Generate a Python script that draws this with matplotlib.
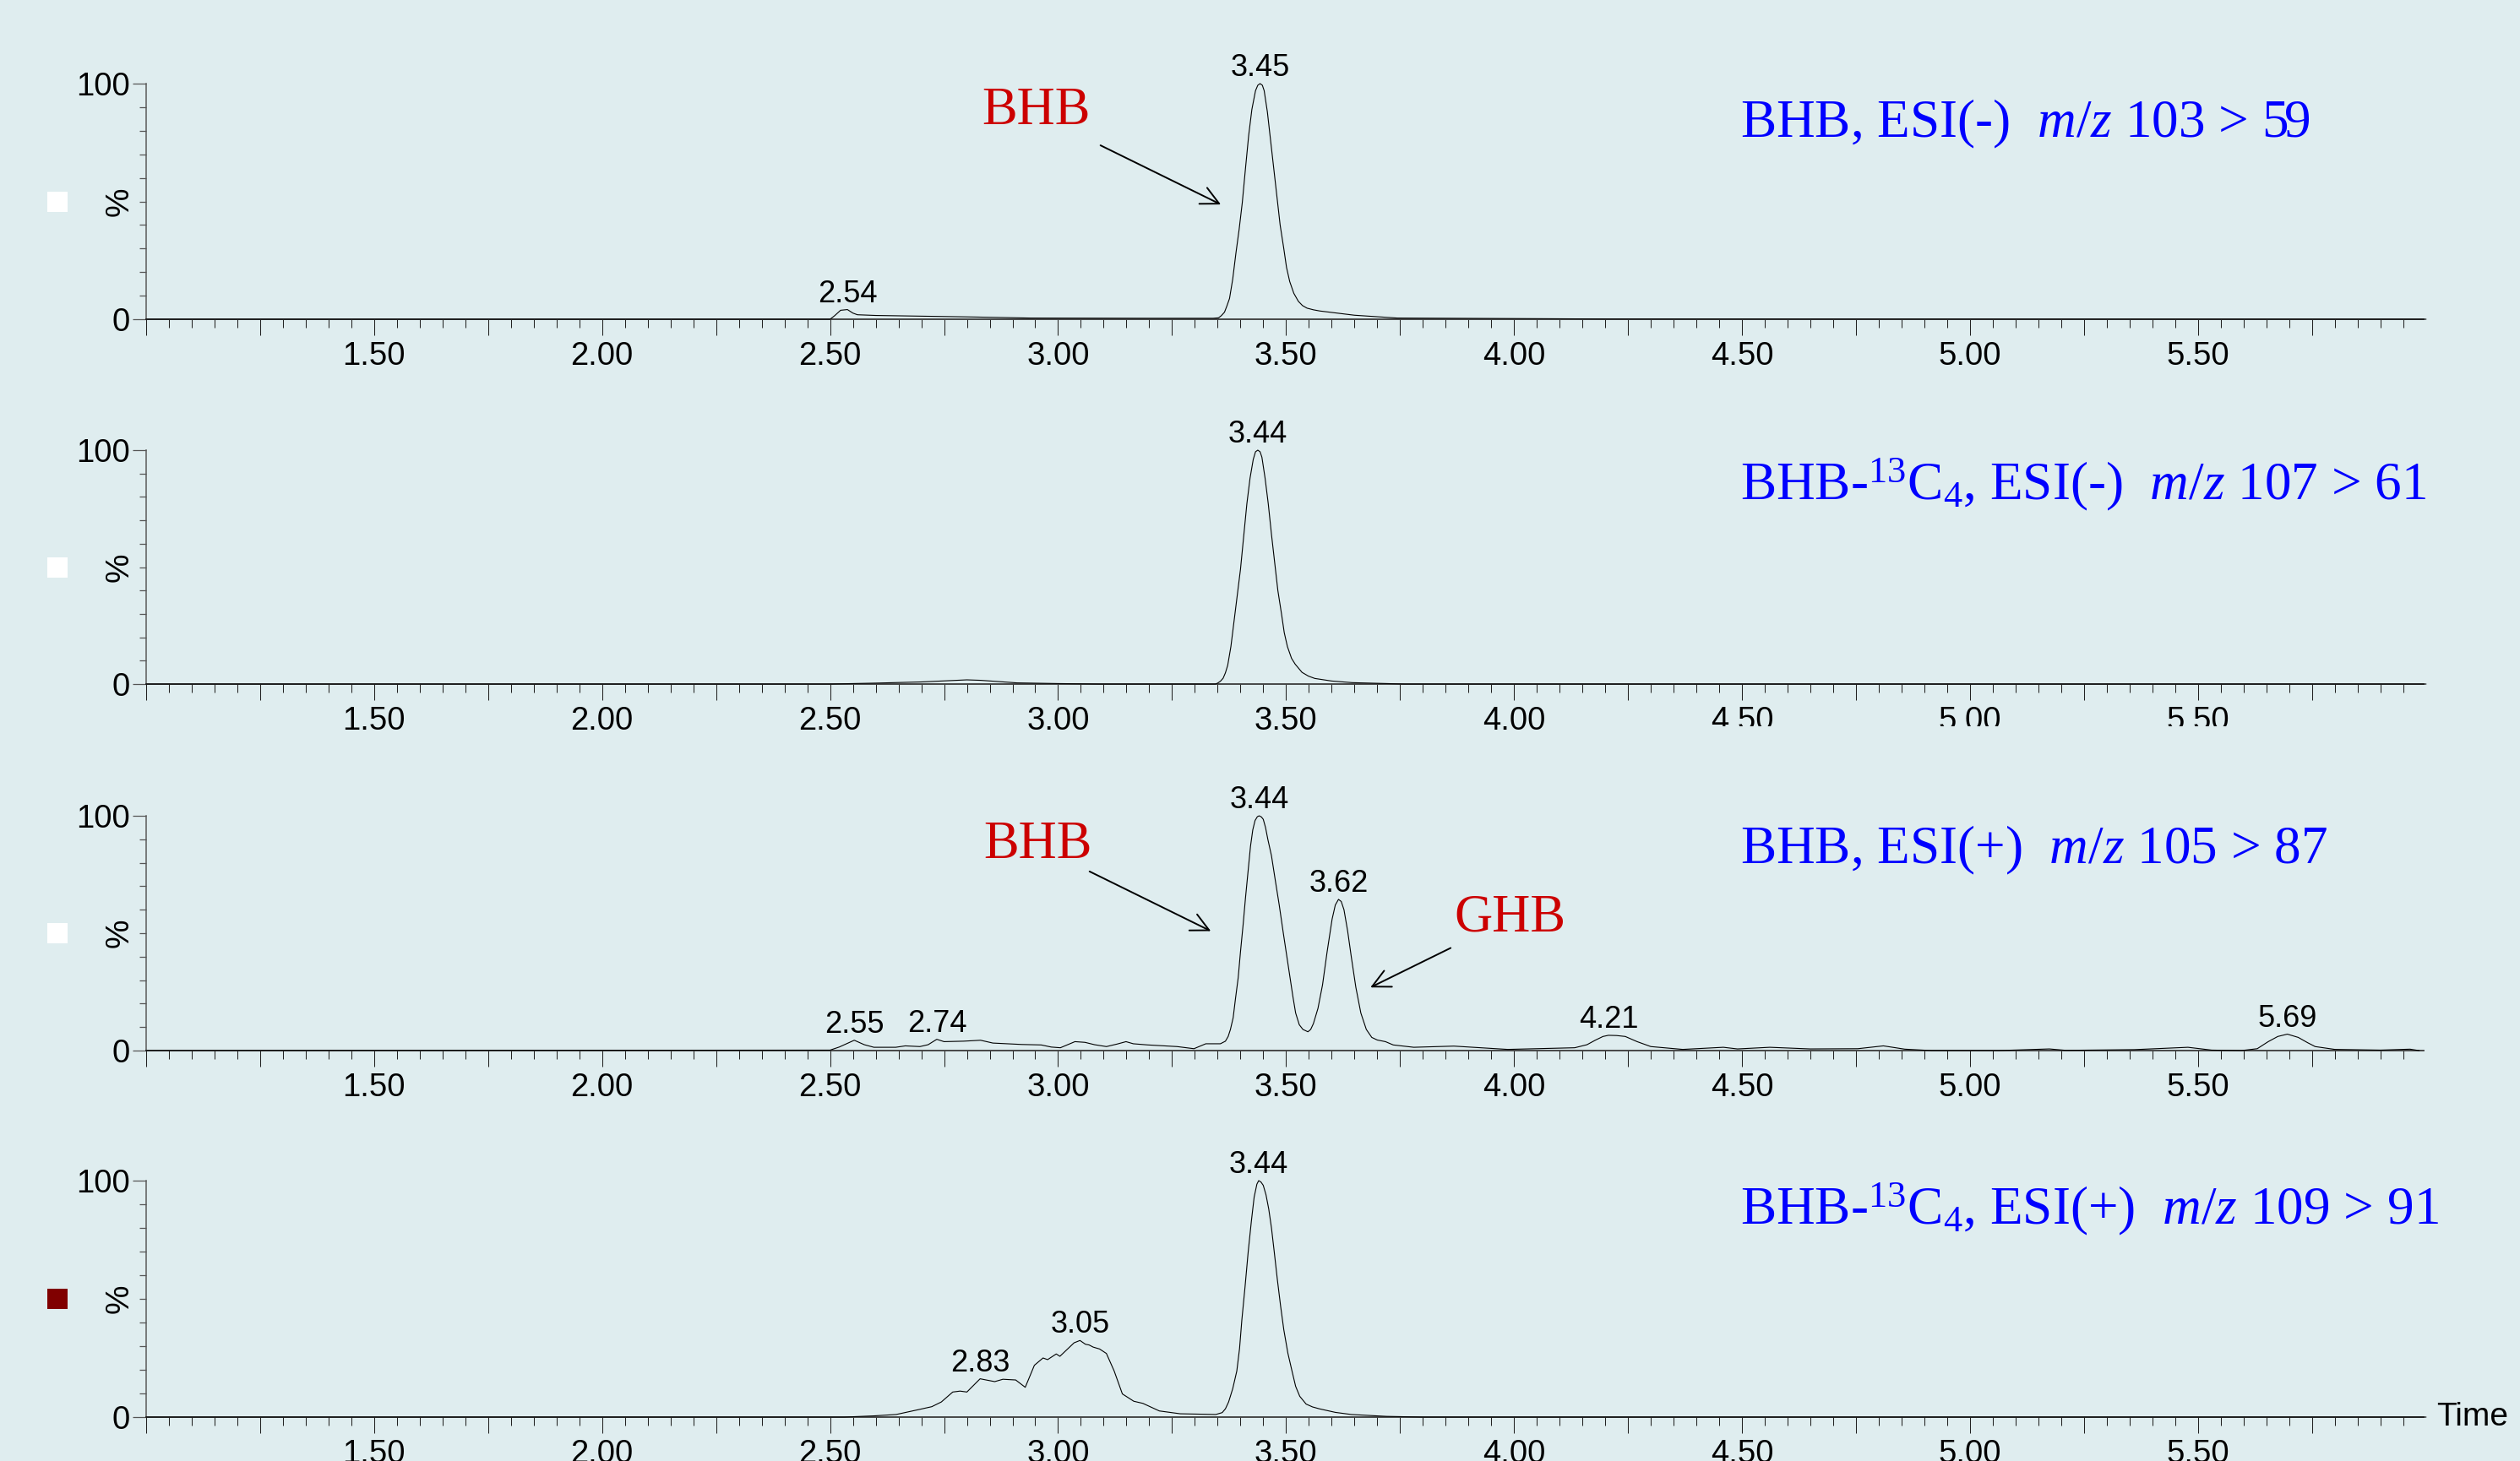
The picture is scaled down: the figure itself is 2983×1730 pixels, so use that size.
import numpy as np
import matplotlib
matplotlib.use('Agg')
import matplotlib.pyplot as plt
from matplotlib.ticker import MultipleLocator, FuncFormatter, FixedLocator
from matplotlib.patches import Rectangle

# ---------------- data (min, %) ----------------
t1 = [1.00, 2.50, 2.51, 2.523, 2.538, 2.55, 2.56, 2.60, 2.70, 2.80, 2.94, 3.20,
      3.34, 3.352, 3.358, 3.365, 3.370, 3.376, 3.383, 3.390, 3.397, 3.404,
      3.411, 3.418, 3.425, 3.433, 3.438, 3.443, 3.448, 3.452, 3.459, 3.466,
      3.473, 3.480, 3.487, 3.495, 3.501, 3.508, 3.517, 3.527, 3.536, 3.546,
      3.560, 3.574, 3.65, 3.744, 4.20, 6.00]
i1 = [0, 0, 1.5, 3.8, 4.1, 2.6, 1.9, 1.6, 1.3, 1.0, 0.5, 0.4,
      0.4, 0.6, 1.5, 3.0, 5.5, 8.8, 17, 28, 38, 49.5,
      64, 78, 89, 97, 99.3, 100, 99.3, 97, 88, 76,
      64, 52, 40, 30, 22, 16, 11, 7.6, 5.8, 4.7,
      4.0, 3.5, 1.7, 0.5, 0.1, 0]
pk1_t = [2.538, 3.443]
pk1_lab = ['2.54', '3.45']

t2 = [1.00, 2.50, 2.60, 2.70, 2.80, 2.83, 2.91, 3.00, 3.09, 3.345, 3.350,
      3.356, 3.362, 3.367, 3.372, 3.379, 3.386, 3.393, 3.400, 3.407, 3.414,
      3.421, 3.428, 3.433, 3.438, 3.443, 3.447, 3.454, 3.461, 3.468, 3.475,
      3.482, 3.490, 3.496, 3.503, 3.512, 3.520, 3.535, 3.549, 3.563, 3.60,
      3.645, 3.76, 6.00]
i2 = [0, 0, 0.4, 0.9, 1.8, 1.6, 0.5, 0.2, 0, 0, 0.4,
      1.2, 2.5, 4.8, 8, 16, 27, 38, 49, 63, 77,
      88, 96, 99.3, 100, 99.3, 97, 88, 77, 64, 52,
      40, 30, 22, 16, 11, 8.5, 5, 3.4, 2.4, 1.3,
      0.6, 0, 0]
pk2_t = [3.438]
pk2_lab = ['3.44']

t3 = [1.00, 2.50, 2.52, 2.553, 2.575, 2.596, 2.644, 2.665, 2.697, 2.715, 2.734,
      2.750, 2.793, 2.830, 2.857, 2.920, 2.963, 2.985, 3.005, 3.037, 3.059,
      3.080, 3.106, 3.130, 3.149, 3.165, 3.197, 3.261, 3.298, 3.324, 3.356,
      3.367, 3.373, 3.378, 3.384, 3.389, 3.395, 3.400, 3.406, 3.411, 3.417,
      3.422, 3.427, 3.432, 3.437, 3.441, 3.446, 3.450, 3.455, 3.460, 3.468,
      3.476, 3.485, 3.494, 3.501, 3.508, 3.515, 3.521, 3.529, 3.537, 3.548,
      3.554, 3.560, 3.570, 3.580, 3.590, 3.601, 3.608, 3.615, 3.621, 3.627,
      3.635, 3.643, 3.653, 3.664, 3.676, 3.688, 3.700, 3.718, 3.735, 3.78,
      3.868, 3.986, 4.133, 4.160, 4.178, 4.195, 4.207, 4.225, 4.244, 4.27,
      4.30, 4.37, 4.459, 4.49, 4.561, 4.65, 4.754, 4.81, 4.857, 4.916,
      5.063, 5.174, 5.21, 5.36, 5.478, 5.53, 5.595, 5.63, 5.654, 5.675,
      5.696, 5.72, 5.74, 5.757, 5.80, 5.90, 5.965, 5.985]
i3 = [0, 0.2, 1.5, 4.4, 2.5, 1.4, 1.4, 2.0, 1.7, 2.5, 4.8,
      3.8, 4.0, 4.4, 3.2, 2.6, 2.4, 1.5, 1.2, 3.8, 3.5,
      2.5, 1.7, 2.8, 3.8, 2.9, 2.4, 1.7, 0.8, 2.9, 2.9,
      4, 6, 9, 14, 22, 31, 42, 54, 65, 77,
      87, 94, 98, 99.6, 100, 99.5, 98.5, 95, 90, 83,
      73, 62, 50, 41, 32, 23, 16, 11, 9, 8,
      9, 11.5, 18, 28, 42, 56, 62, 64.4, 63.5, 60,
      51, 40, 27, 16, 9, 5.6, 4.5, 3.8, 2.4, 1.4,
      1.9, 0.5, 1.2, 2.5, 4.4, 6.0, 6.5, 6.4, 6.0, 3.8,
      1.7, 0.5, 1.4, 0.7, 1.4, 0.7, 0.8, 2.0, 0.6, 0,
      0, 0.7, 0.1, 0.4, 1.4, 0.2, 0, 0.8, 3.8, 6.0,
      7.0, 5.6, 3.4, 1.7, 0.5, 0.2, 0.6, 0]
pk3_t = [2.553, 2.734, 3.441, 3.615, 4.207, 5.696]
pk3_lab = ['2.55', '2.74', '3.44', '3.62', '4.21', '5.69']

t4 = [1.00, 2.531, 2.595, 2.645, 2.695, 2.723, 2.744, 2.769, 2.785, 2.80,
      2.829, 2.861, 2.879, 2.907, 2.928, 2.948, 2.967, 2.977, 2.996, 3.004,
      3.035, 3.048, 3.06, 3.068, 3.077, 3.091, 3.106, 3.123, 3.141, 3.166,
      3.186, 3.222, 3.268, 3.346, 3.360, 3.367, 3.374, 3.383, 3.392, 3.398,
      3.403, 3.410, 3.417, 3.424, 3.430, 3.436, 3.440, 3.445, 3.450, 3.456,
      3.462, 3.468, 3.474, 3.481, 3.488, 3.495, 3.504, 3.513, 3.521, 3.530,
      3.544, 3.558, 3.573, 3.608, 3.643, 3.72, 3.80, 6.00]
i4 = [0, 0, 0.5, 1.1, 3.2, 4.4, 6.4, 10.6, 11, 10.6,
      16.2, 15, 16, 15.7, 12.6, 21.9, 25, 24.3, 26.7, 25.7,
      31.4, 32.4, 30.8, 30.5, 29.6, 28.8, 26.9, 19.5, 9.8, 6.7,
      5.8, 2.6, 1.4, 1.1, 1.9, 3.5, 6.4, 12, 19.5, 29,
      41, 55, 70, 83, 93, 98.5, 100, 99.4, 98, 94,
      88, 80, 70, 58, 47, 37, 27, 19.5, 13, 8.8,
      5.5, 4.3, 3.5, 2, 1.1, 0.3, 0, 0]
pk4_t = [2.829, 3.048, 3.440]
pk4_lab = ['2.83', '3.05', '3.44']

titles = [r'BHB, ESI(-)  $m/z$ 103 > 59',
          r'BHB-$^{13}$C$_{4}$, ESI(-)  $m/z$ 107 > 61',
          r'BHB, ESI(+)  $m/z$ 105 > 87',
          r'BHB-$^{13}$C$_{4}$, ESI(+)  $m/z$ 109 > 91']
square_cols = ['white', 'white', 'white', '#800000']

#---------------------------style------------------------#
bg = '#DFEDEF'
params = {
    'font.family': 'Liberation Sans',
    'mathtext.fontset': 'custom',
    'mathtext.rm': 'Liberation Serif',
    'mathtext.it': 'Liberation Serif:italic',
    'xtick.labelsize': 27.5,
    'ytick.labelsize': 27.5,
    'figure.figsize': [29.83, 17.30],
    'figure.dpi': 100,
}
plt.rcParams.update(params)

fig = plt.figure(facecolor=bg)
W, H = 2983., 1730.
left, width = 173 / W, 2696 / W
rows = [(99, 378), (533, 810), (966, 1244), (1398, 1678)]   # px of 100 and 0
title_y = [0.771, 0.79, 0.797, 0.818]

traces = [(t1, i1, pk1_t, pk1_lab), (t2, i2, pk2_t, pk2_lab),
          (t3, i3, pk3_t, pk3_lab), (t4, i4, pk4_t, pk4_lab)]

def xfmt(v, pos):
    if abs(v * 2 - round(v * 2)) < 1e-6 and 1.4 < v < 5.6:
        return '%.2f' % v
    return ''

axes = []
for k, (top, bot) in enumerate(rows):
    ax = fig.add_axes([left, 1 - bot / H, width, (bot - top) / H])
    ax.set_facecolor(bg)
    t, y, pt, pl = traces[k]
    ax.plot(t, y, color='black', lw=0.8, clip_on=False, zorder=3)

    ax.set_xlim(1.0, 5.995)
    ax.set_ylim(0, 100)
    for s in ['top', 'right']:
        ax.spines[s].set_visible(False)
    ax.spines['left'].set_color('#5a5a5a')
    ax.spines['left'].set_linewidth(1.1)
    ax.spines['bottom'].set_color('#3a3a3a')
    ax.spines['bottom'].set_linewidth(1.3)

    ax.xaxis.set_major_locator(MultipleLocator(0.25))
    ax.xaxis.set_minor_locator(MultipleLocator(0.05))
    ax.xaxis.set_major_formatter(FuncFormatter(xfmt))
    ax.yaxis.set_major_locator(FixedLocator([0, 100]))
    ax.yaxis.set_minor_locator(MultipleLocator(10))
    ax.tick_params(axis='x', which='major', length=13.7, width=0.75, pad=5, color='#222222')
    ax.tick_params(axis='x', which='minor', length=7.2, width=0.75, color='#222222')
    ax.tick_params(axis='y', which='major', length=11.5, width=0.9, pad=2.5, color='#555555')
    ax.tick_params(axis='y', which='minor', length=5.8, width=0.9, color='#555555')

    # peak labels
    for tt, lab in zip(pt, pl):
        yy = np.interp(tt, t, y)
        ax.annotate(lab, xy=(tt, yy), xytext=(0, 6.5), textcoords='offset points',
                    ha='center', va='baseline', fontsize=26)

    ax.text(-0.0115, 0.5, '%', rotation=90, transform=ax.transAxes,
            ha='center', va='center', fontsize=28)
    ax.plot([-0.039], [0.5], marker='s', ms=17.3, mew=0, color=square_cols[k],
            transform=ax.transAxes, clip_on=False)
    ax.text(0.70, title_y[k], titles[k], transform=ax.transAxes, color='#0000FF',
            fontsize=45.5, family='Liberation Serif', ha='left', va='baseline')
    axes.append(ax)

#-----------------------add text------------------------------#
red = '#CC0000'
arrow_args = dict(arrowstyle='->', lw=1.4, color='black', mutation_scale=38,
                  shrinkA=0, shrinkB=0)
axes[0].text(2.833, 82.8, 'BHB', color=red, fontsize=45, family='Liberation Serif',
             ha='left', va='baseline')
axes[0].annotate('', xy=(3.357, 48.7), xytext=(3.093, 73.8), arrowprops=arrow_args)

axes[2].text(2.837, 82, 'BHB', color=red, fontsize=45, family='Liberation Serif',
             ha='left', va='baseline')
axes[2].annotate('', xy=(3.335, 50.9), xytext=(3.069, 76.3), arrowprops=arrow_args)
axes[2].text(3.868, 50.9, 'GHB', color=red, fontsize=45, family='Liberation Serif',
             ha='left', va='baseline')
axes[2].annotate('', xy=(3.685, 26.9), xytext=(3.861, 43.7), arrowprops=arrow_args)

fig.text(2884 / W, 1 - 1678 / H, 'Time', fontsize=28, ha='left', va='center')

# the panel-2 labels at 4.50-5.50 are cut off in the original figure
fig.patches.append(Rectangle((1960 / W, 1 - 882 / H), (W - 1960) / W, 22 / H,
                             transform=fig.transFigure, facecolor=bg,
                             edgecolor='none', zorder=10))

#----------------------output figure-------------------------#
fig.savefig('out.png', dpi=100, facecolor=bg)
